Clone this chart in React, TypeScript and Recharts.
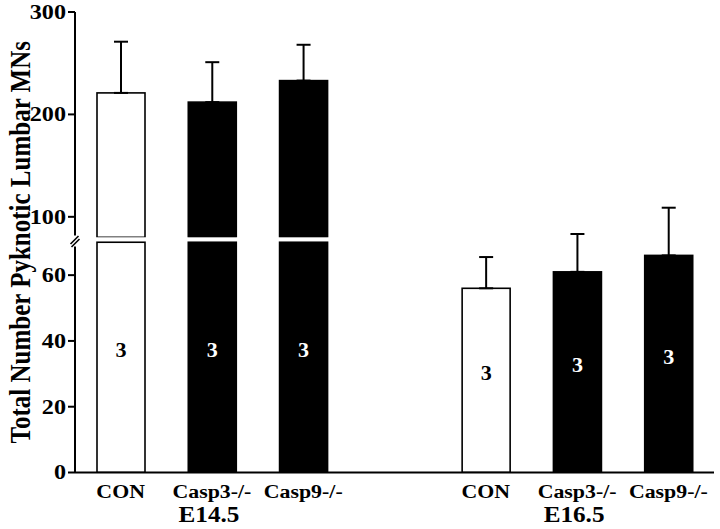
import React from 'react';
import { BarChart, Bar, XAxis, YAxis, ErrorBar, Cell, ReferenceArea, Label } from 'recharts';

// ---------- data ----------
const genotypes = ['CON', 'Casp3-/-', 'Casp9-/-'];
const ages = ['E14.5', 'E16.5'];
const e145Means = [221, 212, 233];
const e145Errors = [50, 39, 35];
const e165Means = [56, 61, 66];
const e165Errors = [9.5, 11.5, 14.5];
const sampleSizes = ['3', '3', '3'];
const lowTicks = [0, 20, 40, 60];
const highTicks = [100, 200, 300];

// axis break: lower segment 0..LOW_TOP, upper segment HIGH_BOTTOM..HIGH_MAX
const LOW_TOP = 70;
const LOW_MAX = 140.0;
const HIGH_BOTTOM = 80;
const HIGH_MAX = 300;

type Row = {
  cat: string;
  genotype: string;
  age: string;
  mean: number | null;
  high: number | null;
  n: string | null;
  loErr: number[] | null;
  hiErr: number[] | null;
  showAge: boolean;
};

const rows: Row[] = [];
ages.forEach((age, ai) => {
  const means = ai === 0 ? e145Means : e165Means;
  const errs = ai === 0 ? e145Errors : e165Errors;
  genotypes.forEach((g, gi) => {
    const isHigh = means[gi] > LOW_TOP;
    rows.push({
      cat: `${age} ${g}`,
      genotype: g,
      age,
      mean: means[gi],
      high: isHigh ? means[gi] : null,
      n: sampleSizes[gi],
      loErr: isHigh ? null : [0, errs[gi]],
      hiErr: isHigh ? [0, errs[gi]] : null,
      showAge: gi === 1,
    });
  });
  if (ai === 0) {
    rows.push({ cat: 'gap', genotype: '', age: '', mean: null, high: null, n: null, loErr: null, hiErr: null, showAge: false });
  }
});

// ---------- layout ----------
const W = 720;
const H = 529;
const FONT = '"Liberation Serif", "Times New Roman", serif';
const PLOT_TOP = 12;
const PLOT_BOTTOM = 472.5;
const UPPER_BOTTOM = 237.3;
const XAXIS_H = 50;
const Y_W = 75;
const RIGHT = 6;
const STRETCH = 1.15;
const BREAK_Y = PLOT_TOP + (PLOT_BOTTOM - PLOT_TOP) * (1 - LOW_TOP / LOW_MAX);

const fillFor = (g: string) => (g === 'CON' ? '#ffffff' : '#000000');

// horizontally stretched bold serif text (the reference scan is slightly wide)
const SText = (props: any) => {
  const { x, y, sx = STRETCH, children, ...rest } = props;
  return (
    <text
      transform={`translate(${x} ${y}) scale(${sx} 1)`}
      x={0}
      y={0}
      fontFamily={FONT}
      fontWeight="bold"
      fill="#000"
      style={{ fill: rest.fill || '#000' }}
      {...rest}
    >
      {children}
    </text>
  );
};

const LowerBarShape = (props: any) => {
  const { x, y, width, height, fill } = props;
  if (x == null || y == null || !width || height == null) return null;
  const bottom = y + height;
  const top = Math.max(y, BREAK_Y);
  const n = props.payload ? props.payload.n : props.n;
  const labelY = (top + bottom) / 2 - 7;
  return (
    <g>
      <rect x={x} y={top} width={width} height={Math.max(0, bottom - top)} fill={fill} stroke="#000" strokeWidth={1.6} />
      {n != null && (
        <SText x={x + width / 2} y={labelY} sx={1.05} textAnchor="middle" dominantBaseline="central" fontSize={21} fill={fill === '#ffffff' ? '#000' : '#fff'}>
          {n}
        </SText>
      )}
    </g>
  );
};

const UpperBarShape = (props: any) => {
  const { x, y, width, height, fill } = props;
  if (x == null || y == null || !width || height == null) return null;
  return <rect x={x} y={y} width={width} height={height} fill={fill} stroke="#000" strokeWidth={1.6} />;
};

const GenotypeTick = (props: any) => {
  const { x, y, payload } = props;
  const row = rows.find((r) => r.cat === payload.value);
  if (!row || !row.genotype) return null;
  return (
    <g>
      <SText x={x} y={y + 25} textAnchor="middle" fontSize={19}>
        {row.genotype}
      </SText>
      {row.showAge && (
        <SText x={x - 3} y={y + 49} sx={1.05} textAnchor="middle" fontSize={24}>
          {row.age}
        </SText>
      )}
    </g>
  );
};

const YTick = (props: any) => {
  const { x, y, payload } = props;
  return (
    <SText x={x} y={y} textAnchor="end" dominantBaseline="central" fontSize={21}>
      {payload.value}
    </SText>
  );
};

export default function App() {
  return (
    <div style={{ position: 'relative', width: W, height: H, background: '#fff' }}>
      <style>{'body{margin:0;background:#fff}'}</style>
      {/* lower segment (0..70) + E16.5 groups */}
      <div style={{ position: 'absolute', left: 0, top: 0 }}>
        <BarChart
          width={W}
          height={H}
          data={rows}
          margin={{ top: PLOT_TOP, right: RIGHT, left: 0, bottom: H - PLOT_BOTTOM - XAXIS_H }}
          barSize={48}
        >
          <XAxis
            dataKey="cat"
            height={XAXIS_H}
            tickLine={false}
            tickSize={0}
            tickMargin={0}
            interval={0}
            axisLine={{ stroke: '#000', strokeWidth: 2 }}
            tick={<GenotypeTick />}
          />
          <YAxis
            type="number"
            domain={[0, LOW_MAX]}
            ticks={lowTicks}
            allowDataOverflow
            width={Y_W}
            tickSize={7}
            tickMargin={2}
            tick={<YTick />}
            tickLine={{ stroke: '#000', strokeWidth: 2 }}
            axisLine={{ stroke: '#000', strokeWidth: 2 }}
          >
            <Label
              content={(p: any) => {
                const vb = p.viewBox || { x: 0, y: PLOT_TOP, width: Y_W, height: PLOT_BOTTOM - PLOT_TOP };
                const cx = vb.x + 20;
                const cy = vb.y + vb.height / 2;
                return (
                  <text
                    transform={`translate(${cx} ${cy}) scale(${STRETCH} 1) rotate(-90)`}
                    x={0}
                    y={0}
                    textAnchor="middle"
                    dominantBaseline="central"
                    fontSize={25}
                    fontWeight="bold"
                    fontFamily={FONT}
                    fill="#000"
                    style={{ fill: '#000' }}
                  >
                    Total Number Pyknotic Lumbar MNs
                  </text>
                );
              }}
            />
          </YAxis>
          <ReferenceArea fill="none" stroke="#000" strokeWidth={2} fillOpacity={0} />
          <Bar dataKey="mean" isAnimationActive={false} shape={<LowerBarShape />}>
            {rows.map((r, i) => (
              <Cell key={i} fill={fillFor(r.genotype)} />
            ))}
            <ErrorBar dataKey="loErr" width={7} stroke="#000" strokeWidth={2} />
          </Bar>
        </BarChart>
      </div>
      {/* upper segment (80..300) for E14.5 */}
      <div style={{ position: 'absolute', left: 0, top: 0 }}>
        <BarChart
          width={W}
          height={H}
          data={rows}
          margin={{ top: PLOT_TOP, right: RIGHT, left: 0, bottom: H - UPPER_BOTTOM }}
          barSize={48}
        >
          <XAxis dataKey="cat" hide />
          <YAxis
            type="number"
            domain={[HIGH_BOTTOM, HIGH_MAX]}
            ticks={highTicks}
            allowDataOverflow
            width={Y_W}
            tickSize={7}
            tickMargin={2}
            tick={<YTick />}
            tickLine={{ stroke: '#000', strokeWidth: 2 }}
            axisLine={{ stroke: '#000', strokeWidth: 2 }}
          />
          <Bar dataKey="high" isAnimationActive={false} shape={<UpperBarShape />}>
            {rows.map((r, i) => (
              <Cell key={i} fill={fillFor(r.genotype)} />
            ))}
            <ErrorBar dataKey="hiErr" width={7} stroke="#000" strokeWidth={2} />
          </Bar>
        </BarChart>
      </div>
      {/* axis break mark */}
      <svg width={W} height={H} style={{ position: 'absolute', left: 0, top: 0, pointerEvents: 'none' }}>
        <rect x={70} y={235.5} width={11} height={11} fill="#fff" />
        <line x1={70.5} y1={244} x2={78.5} y2={236} stroke="#000" strokeWidth={1.6} />
        <line x1={71.5} y1={247} x2={79.5} y2={239} stroke="#000" strokeWidth={1.6} />
      </svg>
    </div>
  );
}
